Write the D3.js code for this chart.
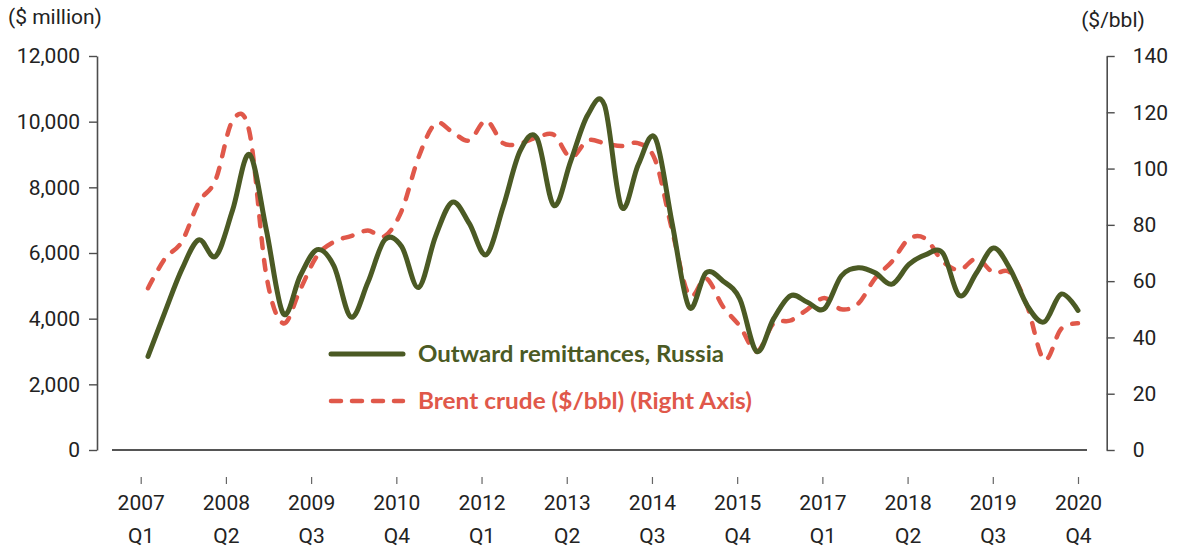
<!DOCTYPE html>
<html>
<head>
<meta charset="utf-8">
<script src="https://cdn.jsdelivr.net/npm/d3@7"></script>
<style>
  body { margin: 0; background: #fff; }
  svg text { font-family: Roboto, "Liberation Sans", sans-serif; }
</style>
</head>
<body>
<div id="chart"></div>
<script>
// categories: 2007 Q1 .. 2020 Q4
const years = [2007, 2008, 2009, 2010, 2011, 2012, 2013, 2014, 2015, 2016, 2017, 2018, 2019, 2020];
const quarterNames = ["Q1", "Q2", "Q3", "Q4"];

// Outward remittances, Russia ($ million)
const remittances = [
  2850, 4200, 5500, 6400, 5900, 7300, 9000, 6700, 4150, 5300,
  6100, 5600, 4050, 5100, 6400, 6200, 4950, 6500, 7550, 6900,
  5950, 7400, 9100, 9500, 7450, 8800, 10200, 10500, 7400, 8700,
  9500, 6900, 4350, 5400, 5150, 4600, 3000, 4000, 4700, 4500,
  4300, 5300, 5550, 5400, 5050, 5650, 5950, 6000, 4700, 5400,
  6150, 5500, 4400, 3900, 4750, 4250
];

// Brent crude ($/bbl), right axis
const brent = [
  57.5, 68, 74, 88, 96, 117, 113, 62, 45, 57,
  69, 74, 76, 78, 76, 85, 104, 116, 113, 110,
  117, 109, 109, 111, 112, 104, 110, 109, 108, 109,
  103, 78, 55, 61, 51, 44, 35, 45, 46, 50,
  54, 50, 52, 61, 67, 75, 75, 67, 64, 68,
  63, 63, 51, 32, 43, 45
];

const leftTicks = [0, 2000, 4000, 6000, 8000, 10000, 12000];
const rightTicks = [0, 20, 40, 60, 80, 100, 120, 140];
const seriesNames = ["Outward remittances, Russia", "Brent crude ($/bbl) (Right Axis)"];

const green = "#4b5a24", red = "#e0584a", ink = "#222", axisGrey = "#4d4d4d";
const fontSize = "21px";

const categories = [];
years.forEach(y => quarterNames.forEach(q => categories.push({ year: y, q: q })));
const catKeys = categories.map(c => c.year + " " + c.q);
const labelKeys = catKeys.filter((d, i) => i % 5 === 0);

const W = 1186, H = 548;
const svg = d3.select("#chart").append("svg")
    .attr("width", W)
    .attr("height", H);

// scales
const x = d3.scaleLinear().domain([0, categories.length - 1]).range([148, 1078]);
const xAxisScale = d3.scalePoint().domain(catKeys).range([140.7, 1078]);
const yLeft = d3.scaleLinear().domain([0, 12000]).range([450, 56]);
const yRight = d3.scaleLinear().domain([0, 140]).range([450, 56]);

// left axis
const gLeft = svg.append("g")
    .attr("transform", "translate(97,0)")
    .call(d3.axisLeft(yLeft).tickValues(leftTicks).tickSize(8).tickSizeOuter(0)
        .tickPadding(9).tickFormat(d3.format(",")));

// right axis
const gRight = svg.append("g")
    .attr("transform", "translate(1106.7,0)")
    .call(d3.axisRight(yRight).tickValues(rightTicks).tickSize(8).tickSizeOuter(0)
        .tickPadding(18));

[gLeft, gRight].forEach(g => {
    g.select(".domain").attr("stroke", axisGrey).attr("stroke-width", 1.6);
    g.selectAll(".tick line").attr("stroke", axisGrey).attr("stroke-width", 1.4);
    g.selectAll(".tick text").attr("fill", ink).style("font-size", fontSize);
});

// horizontal base line
svg.append("line")
    .attr("x1", 112).attr("x2", 1087)
    .attr("y1", yLeft(0)).attr("y2", yLeft(0))
    .attr("stroke", "#555").attr("stroke-width", 2);

// category axis (ticks sit below the base line)
const gX = svg.append("g")
    .attr("transform", "translate(0,477)")
    .call(d3.axisBottom(xAxisScale).tickValues(labelKeys).tickSize(7));
gX.select(".domain").remove();
gX.selectAll(".tick line").attr("stroke", "#666").attr("stroke-width", 1.2);
gX.selectAll(".tick text").remove();
gX.selectAll(".tick").each(function (d) {
    const parts = d.split(" ");
    const t = d3.select(this);
    t.append("text").attr("y", 33).attr("text-anchor", "middle")
        .attr("fill", ink).style("font-size", fontSize).text(parts[0]);
    t.append("text").attr("y", 66).attr("text-anchor", "middle")
        .attr("fill", ink).style("font-size", fontSize).text(parts[1]);
});

// axis titles
svg.append("text").attr("x", 8).attr("y", 24)
    .attr("fill", ink).style("font-size", fontSize).text("($ million)");
svg.append("text").attr("x", 1113).attr("y", 27).attr("text-anchor", "middle")
    .attr("fill", ink).style("font-size", fontSize).text("($/bbl)");

// lines
const curve = d3.curveCardinal.tension(0);

svg.append("path")
    .datum(brent)
    .attr("fill", "none")
    .attr("stroke", red)
    .attr("stroke-width", 4.5)
    .attr("stroke-dasharray", "10,12")
    .attr("stroke-linecap", "round")
    .attr("d", d3.line()
        .x((d, i) => x(i))
        .y(d => yRight(d))
        .curve(curve));

svg.append("path")
    .datum(remittances)
    .attr("fill", "none")
    .attr("stroke", green)
    .attr("stroke-width", 5)
    .attr("stroke-linecap", "round")
    .attr("stroke-linejoin", "round")
    .attr("d", d3.line()
        .x((d, i) => x(i))
        .y(d => yLeft(d))
        .curve(curve));

// legend
const legend = [
    { name: seriesNames[0], color: green, dash: null, y: 354, width: 306 },
    { name: seriesNames[1], color: red, dash: "10,11", y: 401, width: 334 }
];
legend.forEach(l => {
    svg.append("line")
        .attr("x1", 331).attr("x2", 403)
        .attr("y1", l.y).attr("y2", l.y)
        .attr("stroke", l.color)
        .attr("stroke-width", l.dash ? 4.5 : 5)
        .attr("stroke-linecap", "round")
        .attr("stroke-dasharray", l.dash);
    svg.append("text")
        .attr("x", 418).attr("y", l.y).attr("dy", "0.36em")
        .attr("fill", l.color)
        .attr("textLength", l.width)
        .attr("lengthAdjust", "spacingAndGlyphs")
        .style("font-family", "Lato, Roboto, sans-serif")
        .style("font-weight", "bold")
        .style("font-size", "22px")
        .text(l.name);
});
</script>
</body>
</html>
